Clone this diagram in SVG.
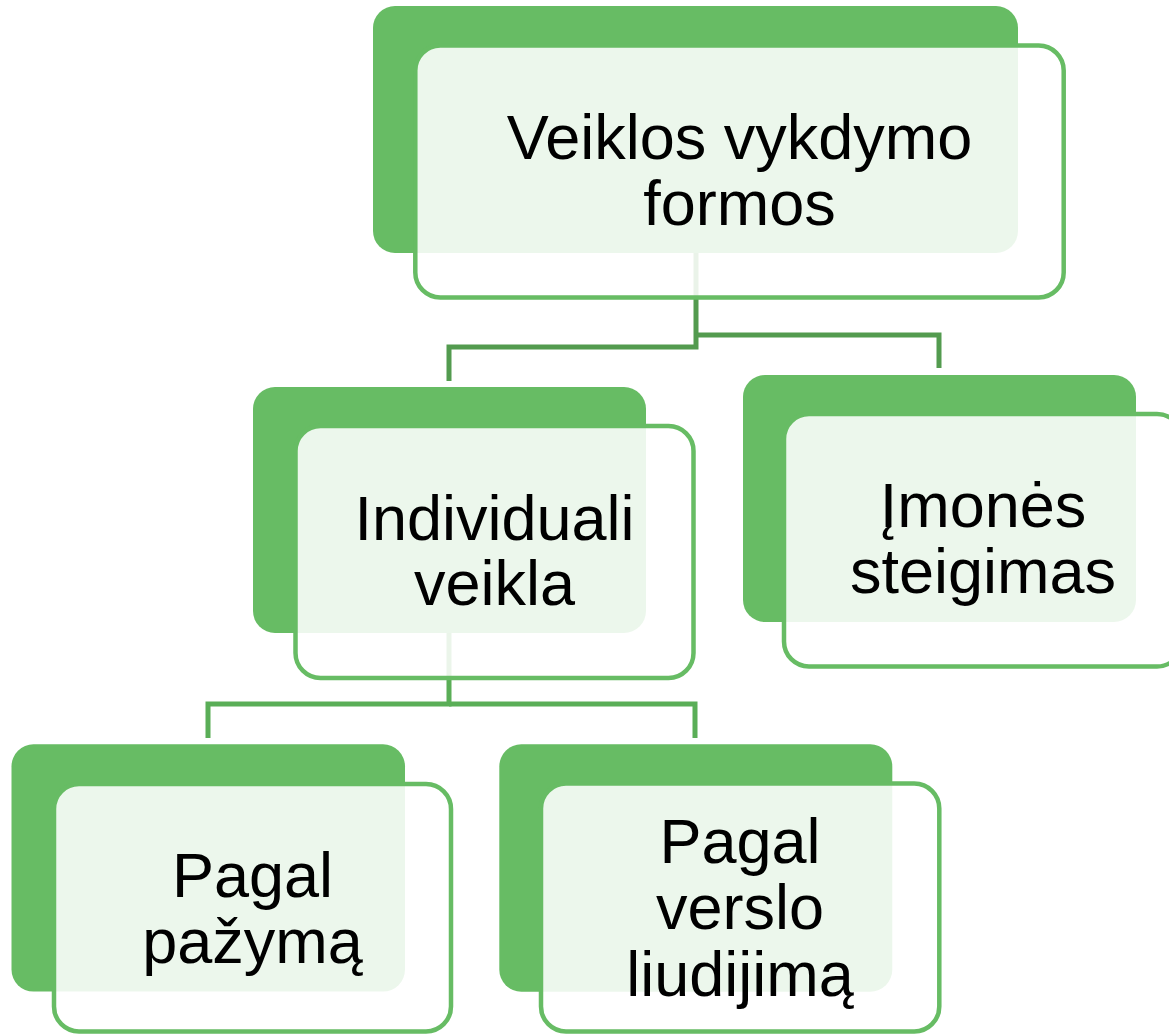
<svg xmlns="http://www.w3.org/2000/svg" width="1169" height="1035" viewBox="0 0 1169 1035">
<style>
.back{fill:#67bc64;}
.front{fill:#ffffff;fill-opacity:0.88;stroke:#67bc64;stroke-width:4.5;}
.lbl{font-family:"Liberation Sans",Arial,sans-serif;font-size:63px;fill:#000000;text-anchor:middle;}
.c1{fill:none;stroke:#539b4f;stroke-width:5;}
.c2{fill:none;stroke:#5aae57;stroke-width:5;}
</style>
<rect width="1169" height="1035" fill="#ffffff"/>
<g id="connectors">
<path class="c1" d="M696 253 V347 H449 V381"/>
<path class="c1" d="M696 335 H939 V368"/>
<path class="c2" d="M449 633 V704 H208 V738"/>
<path class="c2" d="M449 704 H695 V738"/>
</g>
<g id="node-veiklos">
<rect class="back" x="373" y="6" width="645" height="247" rx="22"/>
<rect class="front" x="415.3" y="45.5" width="648.4" height="252" rx="25"/>
<text class="lbl" x="739.5" y="158.5">Veiklos vykdymo</text>
<text class="lbl" x="739.5" y="225">formos</text>
</g>
<g id="node-individuali">
<rect class="back" x="253" y="387" width="393" height="246" rx="22"/>
<rect class="front" x="295.5" y="426" width="398" height="252" rx="25"/>
<text class="lbl" x="494.5" y="539.5">Individuali</text>
<text class="lbl" x="494.5" y="605">veikla</text>
</g>
<g id="node-imones">
<rect class="back" x="743" y="375" width="393" height="247" rx="22"/>
<rect class="front" x="784" y="414" width="398" height="252.5" rx="25"/>
<text class="lbl" x="983" y="527">Įmonės</text>
<text class="lbl" x="983" y="593.3">steigimas</text>
</g>
<g id="node-pazyma">
<rect class="back" x="11.5" y="744.3" width="393.5" height="247.3" rx="22"/>
<rect class="front" x="54" y="784" width="397" height="247.5" rx="25"/>
<text class="lbl" x="252.5" y="896.7">Pagal</text>
<text class="lbl" x="252.5" y="963">pažymą</text>
</g>
<g id="node-liudijima">
<rect class="back" x="499.3" y="744.3" width="393" height="247.4" rx="22"/>
<rect class="front" x="541" y="783.5" width="398.3" height="248" rx="25"/>
<text class="lbl" x="740" y="863.3">Pagal</text>
<text class="lbl" x="740" y="929.3">verslo</text>
<text class="lbl" x="740" y="996">liudijimą</text>
</g>
</svg>
